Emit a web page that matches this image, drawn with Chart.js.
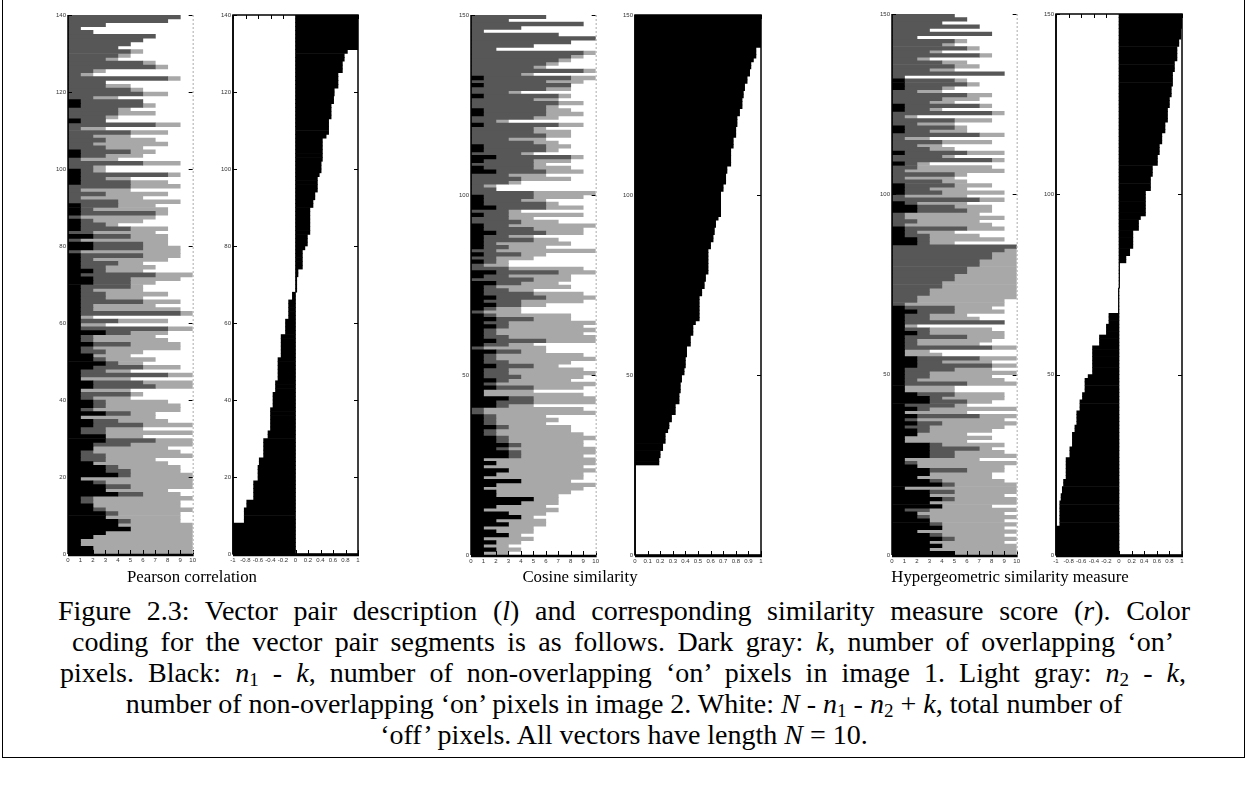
<!DOCTYPE html>
<html>
<head>
<meta charset="utf-8">
<script src="https://cdn.jsdelivr.net/npm/chart.js@4.4.1/dist/chart.umd.min.js"></script>
<style>
  body { margin: 0; width: 1248px; height: 790px; background: #fff; position: relative; overflow: hidden;
         font-family: "Liberation Serif", "Times New Roman", serif; color: #000; }
  canvas { position: absolute; }
  .frame { position: absolute; left: 2px; top: -10px; width: 1243px; height: 768px; box-sizing: border-box; border: 1.5px solid #000; }
  .sub { position: absolute; top: 567px; font-size: 16.8px; line-height: 20px; white-space: nowrap; transform: translateX(-50%); }
  .caption { position: absolute; left: 0; top: 595px; width: 1248px; font-size: 28px; line-height: 31px; }
  .caption div { white-space: nowrap; text-align: justify; text-align-last: justify; height: 31px; }
  .caption div.mid { text-align: center; text-align-last: center; }
  sub { font-size: 0.68em; vertical-align: -0.22em; line-height: 0; }
</style>
</head>
<body>
<div class="frame"></div>
<canvas id="pearsonBars"></canvas>
<canvas id="pearsonScores"></canvas>
<canvas id="cosineBars"></canvas>
<canvas id="cosineScores"></canvas>
<canvas id="hyperBars"></canvas>
<canvas id="hyperScores"></canvas>
<div class="sub" style="left:192px">Pearson correlation</div>
<div class="sub" style="left:580px">Cosine similarity</div>
<div class="sub" style="left:1010px">Hypergeometric similarity measure</div>
<div class="caption">
  <div style="margin-left:58px;width:1132px">Figure 2.3: Vector pair description (<i>l</i>) and corresponding similarity measure score (<i>r</i>). Color</div>
  <div style="margin-left:72px;width:1102px">coding for the vector pair segments is as follows. Dark gray: <i>k</i>, number of overlapping ‘on’</div>
  <div style="margin-left:60px;width:1126px">pixels. Black: <i>n</i><sub>1</sub> - <i>k</i>, number of non-overlapping ‘on’ pixels in image 1. Light gray: <i>n</i><sub>2</sub> - <i>k</i>,</div>
  <div class="mid">number of non-overlapping ‘on’ pixels in image 2. White: <i>N</i> - <i>n</i><sub>1</sub> - <i>n</i><sub>2</sub> + <i>k</i>, total number of</div>
  <div class="mid">‘off’ pixels. All vectors have length <i>N</i> = 10.</div>
</div>
<script>
// rows go from the bottom of each panel (index 0) to the top
// black = n1 - k, dark gray = k, light gray = n2 - k, white = the rest of N = 10
let pearsonBlack = [
  2,2,1,1,2,3,5,4,4,3, 3,2,2,1,1,4,3,3,2,1, 4,3,3,2,1,1,1,2,2,3, 3,1,1,2,2,1,3,1,2,2,
  1,1,1,2,2,1,1,1,2,3, 2,2,1,1,2,1,1,3,1,1, 1,1,1,1,1,1,1,1,1,1, 2,2,1,2,1,1,1,1,0,2,
  2,0,2,0,1,1,1,0,1,1, 1,0,0,0,0,0,1,1,1,1, 0,0,0,1,1,0,0,0,0,0, 0,0,1,0,0,0,1,1,0,0,
  0,0,0,0,0,0,0,0,0,0, 0,0,0,0,0,0,0,0,0,0]
let pearsonDark = [
  0,0,0,0,0,0,0,0,1,0, 1,1,0,1,1,2,0,2,1,0, 1,2,1,0,2,2,1,0,3,4, 0,2,2,4,2,0,2,1,1,1,
  1,4,0,5,4,0,7,2,4,1, 1,0,2,1,3,1,1,2,7,0, 3,0,8,1,1,5,2,2,1,4, 3,3,6,1,2,3,1,5,1,4,
  4,1,3,2,4,2,1,1,6,1, 3,4,1,3,1,5,4,2,7,1, 2,6,1,2,4,3,2,3,2,5, 1,7,2,3,4,4,5,5,2,6,
  5,3,3,8,1,2,7,6,3,4, 5,4,5,6,7,2,1,3,8,9]
let pearsonLight = [
  8,8,9,9,8,7,5,6,4,6, 5,7,7,7,8,3,5,5,7,9, 5,4,5,6,4,7,7,6,5,3, 3,7,3,4,4,6,2,7,6,5,
  3,1,4,3,4,4,2,2,3,2, 4,3,3,7,4,6,5,3,2,2, 4,1,1,7,5,3,3,5,4,1, 2,4,3,3,4,2,6,3,8,3,
  2,7,3,5,3,1,4,6,1,6, 3,5,5,5,4,4,3,2,1,1, 1,3,3,3,2,3,6,4,3,3, 2,2,0,1,3,1,1,0,2,2,
  1,2,0,1,1,1,1,1,1,1, 1,0,0,0,0,0,0,0,0,0]
let pearsonScore = [
  -1,-1,-1,-1,-1,-1,-1,-1, -0.82,-0.82,-0.82,-0.82, -0.78,-0.78,
  -0.67,-0.67,-0.67,-0.67,-0.67, -0.6,-0.6,-0.6,-0.6, -0.58,-0.58,
  -0.51,-0.51,-0.51,-0.51,-0.51, -0.44,-0.44, -0.4,-0.4,-0.4,-0.4,-0.4,-0.4,
  -0.36,-0.36,-0.36,-0.36, -0.32,-0.32,-0.32, -0.28,-0.28,-0.28,-0.28,-0.28,-0.28,
  -0.23,-0.23,-0.23,-0.23,-0.23,-0.23, -0.16,-0.16,-0.16,-0.16, -0.11,-0.11,-0.11,-0.11,-0.11,
  -0.05,-0.05, 0.02,0.02,0.02,0.02, 0.04,0.04, 0.11,0.11,0.11,0.11,0.11, 0.15,
  0.19,0.19,0.19, 0.23,0.23,0.23,0.23,0.23,0.23,0.23, 0.28,0.28, 0.31,0.31,
  0.35,0.35,0.35,0.35, 0.38, 0.41,0.41,0.41, 0.43,0.43,0.43,0.43,0.43,0.43, 0.49,
  0.53,0.53,0.53,0.53, 0.57,0.57,0.57,0.57, 0.61,0.61, 0.62,0.62, 0.68,0.68,0.68,0.68,
  0.75,0.75,0.75, 0.78,0.78, 0.83, 1,1,1,1,1,1,1,1,1]

let cosineBlack = [
  1,2,1,2,1,3,2,1,3,2, 4,3,1,2,4,5,2,2,1,2, 4,1,2,3,1,2,1,3,3,2, 3,2,2,1,1,2,1,1,1,0,
  0,2,2,3,1,1,2,1,2,1, 1,1,2,1,1,1,2,0,1,2, 1,1,1,2,1,2,1,0,1,2, 1,2,1,1,1,2,0,1,2,0,
  0,1,0,1,0,1,1,1,1,2, 1,1,0,0,1,0,2,1,1,1, 0,0,0,0,0,0,2,1,0,1, 2,0,1,1,0,0,0,0,0,1,
  0,0,1,1,0,0,0,1,0,0, 1,0,1,0,0,0,0,0,0,0, 0,0,0,0,0,0,0,0,0,0]
let cosineDark = [
  0,0,0,0,0,0,0,0,0,0, 0,0,0,0,0,0,0,0,0,0, 0,0,0,0,0,0,0,1,1,1, 1,1,1,1,1,1,1,1,1,1,
  1,1,3,2,0,0,3,1,1,3, 2,2,3,2,1,1,2,1,2,4, 2,1,1,1,2,3,1,1,1,2, 3,4,4,2,1,2,5,2,5,3,
  1,1,2,3,2,2,1,4,2,4, 4,2,4,3,2,3,4,5,3,4, 5,2,1,3,4,3,4,4,5,4, 6,4,5,5,5,3,6,5,5,6,
  2,5,5,5,6,7,5,6,3,6, 7,6,7,4,9,5,6,7,8,9, 2,5,8,10,7,1,4,9,3,6]
let cosineLight = [
  2,2,2,2,4,1,3,4,3,4, 1,3,6,4,3,2,5,6,8,8, 4,8,7,7,8,8,9,5,6,7, 5,6,7,7,6,5,4,5,4,9,
  8,2,5,5,8,4,4,8,5,5, 7,6,2,5,8,7,2,5,2,4, 7,7,8,6,7,3,6,3,2,2, 5,4,4,2,6,3,3,5,3,6,
  2,1,3,2,8,3,6,2,2,3, 4,7,3,2,6,1,3,1,2,4, 5,0,1,1,4,3,3,3,1,3, 1,1,1,2,2,3,2,3,1,2,
  1,2,3,2,1,2,2,1,1,2, 0,3,2,1,1,1,1,1,1,1, 0,0,0,0,0,0,0,0,0,0]
let cosineScore = [
  0,0,0,0,0,0,0,0,0,0, 0,0,0,0,0,0,0,0,0,0, 0,0,0,0,0,
  0.19,0.19, 0.2,0.2, 0.22,0.22, 0.24,0.24,0.24, 0.26, 0.27,0.27, 0.29,0.29,
  0.32,0.32,0.32, 0.35,0.35,0.35, 0.36,0.36,0.36, 0.37,0.37, 0.39,0.39,
  0.4,0.4,0.4, 0.41,0.41,0.41, 0.44,0.44,0.44, 0.46,0.46,0.46, 0.48,
  0.51,0.51,0.51,0.51,0.51,0.51,0.51, 0.53,0.53, 0.55,0.55, 0.56,0.56,
  0.58,0.58,0.58,0.58,0.58,0.58,0.58, 0.6,0.6, 0.62,0.62, 0.63,0.63, 0.64,0.64, 0.66,
  0.68,0.68,0.68,0.68,0.68,0.68,0.68, 0.7,0.7, 0.72,0.72,0.72, 0.73,0.73,
  0.76,0.76,0.76,0.76,0.76, 0.78,0.78,0.78, 0.8,0.8,0.8, 0.81,0.81,0.81, 0.83,0.83,
  0.85,0.85,0.85, 0.86,0.86, 0.87,0.87, 0.89,0.89, 0.91,0.91, 0.92,0.92, 0.94,
  0.96,0.96,0.96, 1,1,1,1,1,1,1,1,1]

let hyperBlack = [
  5,3,4,3,4,3,2,4,3,3, 2,2,1,4,3,4,3,3,1,4, 3,2,3,3,2,1,1,3,3,3, 3,1,1,2,2,1,2,1,2,1,
  2,1,3,3,2,1,1,1,1,1, 1,1,2,2,2,1,1,1,1,1, 1,2,1,1,1,1,1,2,1,0, 0,0,0,0,0,0,0,0,0,0,
  0,0,0,0,0,0,2,2,1,1, 1,0,0,0,0,2,2,1,0,0, 1,1,1,0,0,0,0,0,1,0, 0,1,0,0,0,0,0,1,1,0,
  0,0,0,1,1,0,0,0,0,1, 1,1,0,0,0,0,0,0,0,0, 0,0,0,0,0,0,0,0,0,0]
let hyperDark = [
  0,0,0,0,1,1,0,0,1,0, 1,0,2,0,0,1,0,2,0,1, 1,0,0,3,0,1,0,2,2,4, 1,0,0,0,1,2,2,1,5,0,
  1,4,3,1,3,0,0,5,1,2, 2,4,6,2,5,0,0,7,1,1, 5,1,2,0,8,2,2,3,4,1, 2,2,3,3,4,4,5,5,6,6,
  7,7,8,8,9,10,1,1,2,1, 5,1,2,1,1,4,3,1,7,1, 3,2,4,4,1,5,1,2,1,8, 4,5,3,2,4,1,7,2,4,2,
  5,1,8,2,6,3,4,6,2,3, 5,4,1,9,3,5,4,2,7,3, 6,4,5,2,8,3,7,4,6,5]
let hyperLight = [
  5,7,6,6,5,5,8,5,6,6, 7,7,7,4,7,5,6,5,9,5, 5,6,5,3,7,8,6,5,4,1, 5,5,7,4,5,6,6,7,3,5,
  7,1,2,5,4,4,4,4,7,5, 7,3,2,4,3,3,2,2,5,6, 3,6,5,1,0,4,3,4,3,8, 7,8,7,7,6,6,5,5,4,4,
  3,3,2,2,1,0,2,6,4,3, 3,7,5,8,6,2,3,4,2,5, 5,3,3,2,4,1,8,6,1,1, 1,3,2,2,4,2,2,3,1,3,
  3,1,1,1,1,2,3,2,2,1, 1,1,0,0,2,2,2,1,1,1, 1,1,1,0,0,0,0,0,0,0]
let hyperScore = [
  -1,-1,-1,-1,-1,-1,-1,-1, -0.94,-0.94,-0.94,-0.94,-0.94,-0.94,-0.94, -0.92,-0.92,
  -0.9,-0.9, -0.88,-0.88, -0.84,-0.84,-0.84,-0.84,-0.84,-0.84, -0.78,-0.78,-0.78,
  -0.74,-0.74,-0.74,-0.74, -0.7,-0.7, -0.67,-0.67,-0.67,-0.67, -0.62,-0.62,-0.62,
  -0.58,-0.58, -0.54,-0.54,-0.54,-0.54, -0.49, -0.42,-0.42,-0.42,-0.42,-0.42,-0.42,-0.42,-0.42,
  -0.31,-0.31,-0.31, -0.2,-0.2,-0.2, -0.16,-0.16,-0.16,
  -0.01,-0.01,-0.01,-0.01,-0.01,-0.01,-0.01, 0.01,0.01,0.01,0.01,0.01,0.01,0.01,
  0.11,0.11, 0.17,0.17, 0.22,0.22,0.22,0.22,0.22, 0.31,0.31,0.31, 0.34,
  0.42,0.42,0.42,0.42,0.42,0.42,0.42, 0.5,0.5,0.5,0.5, 0.53,0.53,0.53, 0.61,0.61,0.61,
  0.64,0.64,0.64, 0.68,0.68,0.68, 0.73,0.73,0.73, 0.77,0.77,0.77,0.77, 0.8,0.8,0.8,
  0.83,0.83,0.83, 0.85,0.85,0.85,0.85, 0.88,0.88,0.88, 0.92,0.92,0.92,0.92,
  0.95,0.95, 0.98,0.98,0.98, 1,1,1,1]

let segmentColors = ['#000000', '#575757', '#a8a8a8']
let tickFont = { family: 'Liberation Sans', size: 6 }

// inward tick marks and the axes box, drawn the way the old plot does it
let boxPlugin = {
  id: 'box',
  afterDatasetsDraw: function (chart, args, opts) {
    let ctx = chart.ctx, a = chart.chartArea
    let xs = chart.scales.x, ys = chart.scales.y
    ctx.save()
    ctx.strokeStyle = '#000'
    ctx.lineWidth = 1
    ctx.beginPath()
    xs.ticks.forEach(function (t) {
      let px = Math.round(xs.getPixelForValue(t.value)) + 0.5
      ctx.moveTo(px, a.bottom); ctx.lineTo(px, a.bottom - 4)
      if (opts.fullBox) { ctx.moveTo(px, a.top); ctx.lineTo(px, a.top + 4) }
    })
    ys.ticks.forEach(function (t) {
      let py = Math.round(ys.getPixelForValue(t.value)) + 0.5
      ctx.moveTo(a.left, py); ctx.lineTo(a.left + 4, py)
      ctx.moveTo(a.right, py); ctx.lineTo(a.right - 4, py)
    })
    ctx.stroke()
    if (opts.fullBox) {
      ctx.lineWidth = 1.5
      ctx.strokeRect(a.left, a.top, a.right - a.left, a.bottom - a.top)
    } else {
      ctx.strokeStyle = '#aaa'
      ctx.setLineDash([2, 2])
      ctx.beginPath()
      ctx.moveTo(a.right + 0.5, a.top); ctx.lineTo(a.right + 0.5, a.bottom)
      ctx.stroke()
      ctx.setLineDash([])
      ctx.strokeStyle = '#000'
    }
    ctx.lineWidth = 1.5
    ctx.beginPath()
    ctx.moveTo(a.left, a.top); ctx.lineTo(a.left, a.bottom)
    ctx.stroke()
    ctx.lineWidth = 2.5
    ctx.beginPath()
    ctx.moveTo(a.left, a.bottom + 1); ctx.lineTo(a.right + 1, a.bottom + 1)
    ctx.stroke()
    ctx.restore()
  }
}

function rowsOf(values) {
  return values.map(function (v, i) { return { x: v, y: i + 0.5 } })
}

function tickText(v) {
  return String(Math.round(v * 10) / 10)
}

function createPanel(elementID, plot, datasets, xRange, yRange, fullBox) {
  let canvas = document.getElementById(elementID)
  canvas.width = plot.w + 28
  canvas.height = plot.h + 22
  canvas.style.left = (plot.x - 22) + 'px'
  canvas.style.top = (plot.y - 6) + 'px'
  return new Chart(canvas, {
    type: 'bar',
    data: { datasets: datasets },
    options: {
      indexAxis: 'y',
      responsive: false,
      animation: false,
      events: [],
      layout: { padding: { top: 6, right: 6, left: 0, bottom: 0 } },
      plugins: { legend: { display: false }, tooltip: { enabled: false }, box: { fullBox: fullBox } },
      scales: {
        x: {
          type: 'linear', min: xRange[0], max: xRange[1], stacked: true,
          ticks: { stepSize: xRange[2], autoSkip: false, maxRotation: 0, font: tickFont, color: '#333', padding: 3,
                   callback: tickText },
          grid: { display: false, drawTicks: false },
          border: { display: false },
          afterFit: function (s) { s.height = 16 }
        },
        y: {
          type: 'linear', min: 0, max: yRange[0], stacked: true, offset: false,
          ticks: { stepSize: yRange[1], autoSkip: false, font: tickFont, color: '#333', padding: 2 },
          grid: { display: false, drawTicks: false },
          border: { display: false },
          afterFit: function (s) { s.width = 22 }
        }
      }
    },
    plugins: [boxPlugin]
  })
}

function segmentSets(black, dark, light) {
  return [black, dark, light].map(function (values, i) {
    return { data: rowsOf(values), backgroundColor: segmentColors[i], borderWidth: 0,
             barPercentage: 1, categoryPercentage: 1 }
  })
}

function scoreSet(values) {
  return [{ data: rowsOf(values), backgroundColor: '#000', borderWidth: 0, barPercentage: 1, categoryPercentage: 1 }]
}

createPanel('pearsonBars', { x: 68, y: 15, w: 125, h: 539 },
  segmentSets(pearsonBlack, pearsonDark, pearsonLight), [0, 10, 1], [140, 20], false)
createPanel('pearsonScores', { x: 233, y: 15, w: 125, h: 539 },
  scoreSet(pearsonScore), [-1, 1, 0.2], [140, 20], true)
createPanel('cosineBars', { x: 471, y: 15, w: 125, h: 540 },
  segmentSets(cosineBlack, cosineDark, cosineLight), [0, 10, 1], [150, 50], false)
createPanel('cosineScores', { x: 635, y: 15, w: 126, h: 540 },
  scoreSet(cosineScore), [0, 1, 0.1], [150, 50], true)
createPanel('hyperBars', { x: 892, y: 14, w: 125, h: 541 },
  segmentSets(hyperBlack, hyperDark, hyperLight), [0, 10, 1], [150, 50], false)
createPanel('hyperScores', { x: 1056, y: 14, w: 126, h: 541 },
  scoreSet(hyperScore), [-1, 1, 0.2], [150, 50], true)
</script>
</body>
</html>
